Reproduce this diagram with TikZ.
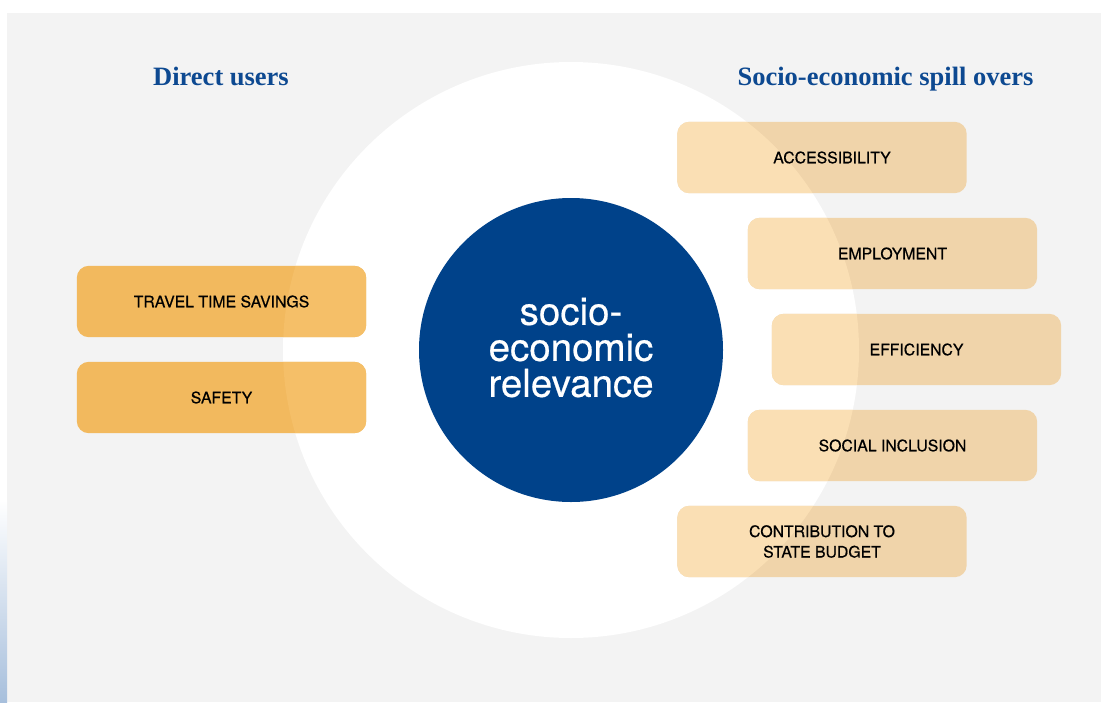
\documentclass[tikz,border=0pt]{standalone}
\usepackage{fontspec}
\setmainfont{Liberation Serif}
\newfontfamily\heros{TeX Gyre Heros}
\newfontfamily\herosmed[FakeBold=0.5]{TeX Gyre Heros}

\definecolor{pagegray}{HTML}{F3F3F3}
\definecolor{stripblue}{HTML}{A7BFDC}
\definecolor{coreblue}{HTML}{00428A}
\definecolor{titleblue}{HTML}{0D4991}
\definecolor{userOut}{HTML}{F2B95E}
\definecolor{userIn}{HTML}{F5BF68}
\definecolor{spillOut}{HTML}{F0D4AA}
\definecolor{spillIn}{HTML}{FADFB4}

\pgfdeclarelayer{back}
\pgfdeclarelayer{mid}
\pgfsetlayers{back,mid,main}

% fill a card: one tone outside the white disc, a lighter one inside it
\newcommand\cardfill[3]{%
  \begin{pgfonlayer}{mid}
    \fill[#2, rounded corners=12pt] (#1.north west) rectangle (#1.south east);
    \begin{scope}
      \clip (571,350) circle (288pt);
      \fill[#3, rounded corners=12pt] (#1.north west) rectangle (#1.south east);
    \end{scope}
  \end{pgfonlayer}}

\begin{document}
\begin{tikzpicture}[x=1pt,y=-1pt,
  card/.style={rectangle, minimum width=289pt, minimum height=71pt, inner sep=0pt,
    align=center, text=black, font=\herosmed\fontsize{15.8}{20.5}\selectfont},
  heading/.style={anchor=base, text=titleblue, inner sep=0pt,
    font=\bfseries\fontsize{26.5}{30}\selectfont}]
\useasboundingbox (0,0) rectangle (1103,702);

\begin{pgfonlayer}{back}
  \fill[white] (0,0) rectangle (1103,702);
  \fill[pagegray] (7,13) rectangle (1101,702);
  \shade[top color=white, bottom color=stripblue] (0,500) rectangle (7,702);
  \fill[white] (571,350) circle (288pt);
\end{pgfonlayer}

% headings
\node[heading] (hleft) at (221,85) {Direct users};
\node[heading] (hright) at (885.5,85) {Socio-economic spill overs};

% central disc and its caption
\node[circle, fill=coreblue, minimum size=304pt, inner sep=0pt] (core) at (571,350) {};
\node[text=white, align=center, inner sep=0pt,
  font=\herosmed\fontsize{38.5}{36}\selectfont] (corelabel) at (571,347.5)
  {socio-\\economic\\relevance};

% direct users
\node[card] (tts) at (221.5,301.5) {TRAVEL TIME SAVINGS};
\node[card] (saf) at (221.5,397.5) {SAFETY};
\cardfill{tts}{userOut}{userIn}
\cardfill{saf}{userOut}{userIn}

% spill overs
\node[card] (acc) at (822,157.5) {\hspace*{20pt}ACCESSIBILITY};
\node[card] (emp) at (892.5,253.5) {EMPLOYMENT};
\node[card] (eff) at (916.5,349.5) {EFFICIENCY};
\node[card] (soc) at (892.5,445.5) {SOCIAL INCLUSION};
\node[card] (bud) at (822,541.5) {CONTRIBUTION TO\\STATE BUDGET};
\foreach \c in {acc,emp,eff,soc,bud}{\cardfill{\c}{spillOut}{spillIn}}
\end{tikzpicture}
\end{document}
